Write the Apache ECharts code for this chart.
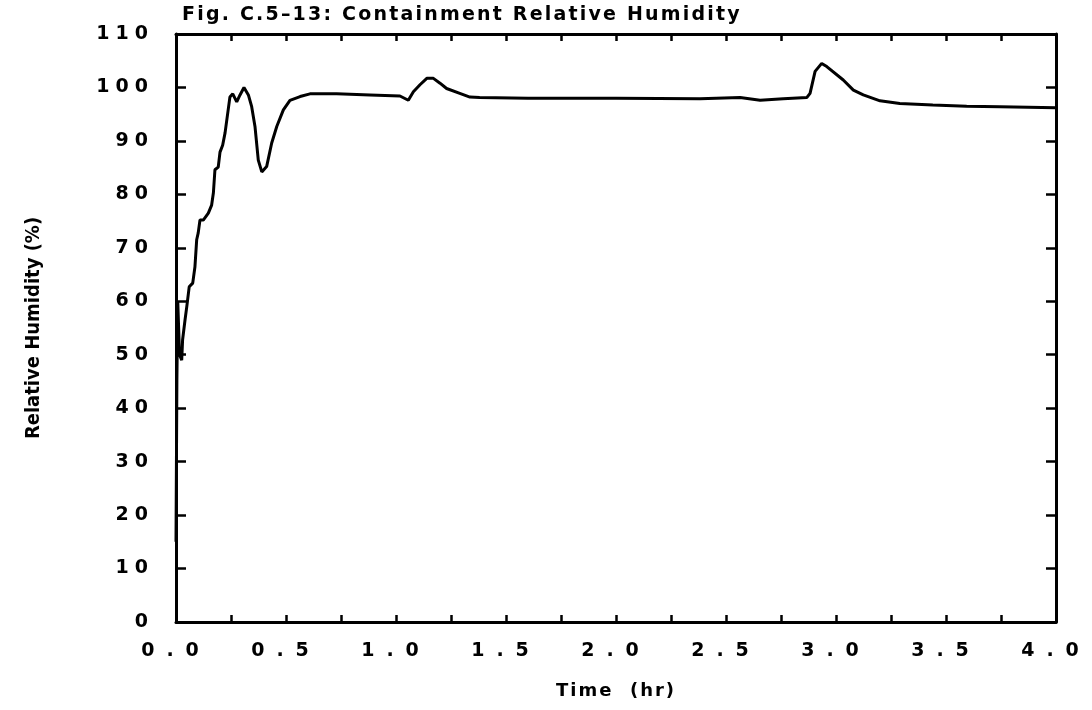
<!DOCTYPE html>
<html>
<head>
<meta charset="utf-8">
<script src="https://cdn.jsdelivr.net/npm/echarts@6/dist/echarts.min.js"></script>
<style>
html,body{margin:0;padding:0;background:#fff;}
#chart{width:1092px;height:710px;}
</style>
</head>
<body>
<div id="chart"></div>
<script>
var titleText = 'Fig. C.5\u201313: Containment Relative Humidity';
var xName = 'Time  (hr)';
var yName = 'Relative Humidity (%)';

var timeHr = [0, 0.004, 0.008, 0.016, 0.026, 0.03, 0.041, 0.049, 0.06, 0.076, 0.086, 0.094, 0.101, 0.109, 0.124, 0.132, 0.147, 0.162, 0.17, 0.177, 0.192, 0.2, 0.212, 0.223, 0.245, 0.258, 0.276, 0.291, 0.309, 0.329, 0.344, 0.359, 0.374, 0.39, 0.412, 0.435, 0.458, 0.488, 0.518, 0.564, 0.609, 0.73, 0.882, 1.018, 1.056, 1.079, 1.109, 1.14, 1.17, 1.2, 1.23, 1.29, 1.336, 1.38, 1.6, 2.0, 2.382, 2.564, 2.655, 2.76, 2.867, 2.882, 2.905, 2.935, 2.958, 3.033, 3.079, 3.124, 3.2, 3.29, 3.44, 3.594, 3.745, 4.0];
var humidity = [15, 45, 60, 50, 49, 52.8, 56.5, 59, 62.7, 63.4, 66.4, 71.5, 72.8, 75.2, 75.2, 75.0, 76.5, 78, 80.3, 84.6, 85.1, 87.9, 89.2, 91.5, 98.2, 98.8, 97.3, 98.6, 100, 98.6, 96.4, 92.7, 86.4, 84.2, 85.2, 89.6, 92.7, 95.8, 97.6, 98.3, 98.8, 98.8, 98.6, 98.4, 97.6, 99.2, 100.5, 101.7, 101.7, 100.8, 99.8, 98.9, 98.2, 98.1, 98.0, 98.0, 97.9, 98.1, 97.6, 97.9, 98.1, 98.9, 103, 104.5, 103.9, 101.4, 99.5, 98.6, 97.5, 97.0, 96.7, 96.5, 96.4, 96.2];

var xMin = 0, xMax = 4, xStep = 0.5;
var yMin = 0, yMax = 110, yStep = 10;

var pts = timeHr.map(function (t, i) { return [t, humidity[i]]; });

// letter spacing of the printed labels (presentation only)
(function () {
  var proto = CanvasRenderingContext2D.prototype;
  var orig = proto.fillText;
  proto.fillText = function (t, x, y, w) {
    var s = String(t), ls = '0px';
    if (/^\d+\.\d$/.test(s)) ls = '12px';
    else if (/^\d+$/.test(s)) ls = '6px';
    else if (s === titleText) ls = '2.2px';
    else if (s === xName) ls = '2px';
    var prev = this.letterSpacing;
    if (prev !== undefined) this.letterSpacing = ls;
    var r = orig.call(this, t, x, y, w);
    if (prev !== undefined) this.letterSpacing = prev;
    return r;
  };
})();

var font = 'DejaVu Sans';
var chart = echarts.init(document.getElementById('chart'));
var axisLine = { show: true, onZero: false, lineStyle: { color: '#000', width: 3 } };
var tickStyle = { color: '#000', width: 2.5 };
chart.setOption({
  animation: false,
  backgroundColor: '#fff',
  title: {
    text: titleText, left: 177, top: 1,
    textStyle: { fontFamily: font, fontSize: 19, fontWeight: 'bold', color: '#000' }
  },
  grid: { left: 176, right: 36, top: 34, bottom: 88 },
  xAxis: [{
    type: 'value', min: xMin, max: xMax, interval: xStep,
    name: xName, nameLocation: 'middle', nameGap: 60,
    nameTextStyle: { fontFamily: font, fontSize: 18, fontWeight: 'bold', color: '#000' },
    axisLine: axisLine,
    axisTick: { show: true, inside: true, length: 7, lineStyle: tickStyle },
    minorTick: { show: true, splitNumber: 2, length: 7, lineStyle: tickStyle },
    splitLine: { show: false },
    axisLabel: { margin: 20, fontFamily: font, fontSize: 19, fontWeight: 'bold', color: '#000',
      formatter: function (v) { return v.toFixed(1); } }
  }, {
    type: 'value', position: 'top', min: xMin, max: xMax, interval: xStep,
    axisLine: axisLine,
    axisTick: { show: true, inside: true, length: 7, lineStyle: tickStyle },
    minorTick: { show: true, splitNumber: 2, length: 7, lineStyle: tickStyle },
    splitLine: { show: false }, axisLabel: { show: false }
  }],
  yAxis: [{
    type: 'value', min: yMin, max: yMax, interval: yStep,
    name: yName, nameLocation: 'middle', nameGap: 132, nameRotate: 90,
    nameTextStyle: { fontFamily: 'DejaVu Sans Condensed, Liberation Sans', fontSize: 20, fontWeight: 'bold', color: '#000' },
    axisLine: axisLine,
    axisTick: { show: true, inside: true, length: 10, lineStyle: tickStyle },
    splitLine: { show: false },
    axisLabel: { margin: 22, fontFamily: font, fontSize: 19, fontWeight: 'bold', color: '#000' }
  }, {
    type: 'value', position: 'right', min: yMin, max: yMax, interval: yStep,
    axisLine: axisLine,
    axisTick: { show: true, inside: true, length: 10, lineStyle: tickStyle },
    splitLine: { show: false }, axisLabel: { show: false }
  }],
  series: [{
    type: 'line', data: pts, xAxisIndex: 0, yAxisIndex: 0,
    showSymbol: false, symbol: 'none', smooth: false,
    lineStyle: { color: '#000', width: 3 }
  }]
});
</script>
</body>
</html>
